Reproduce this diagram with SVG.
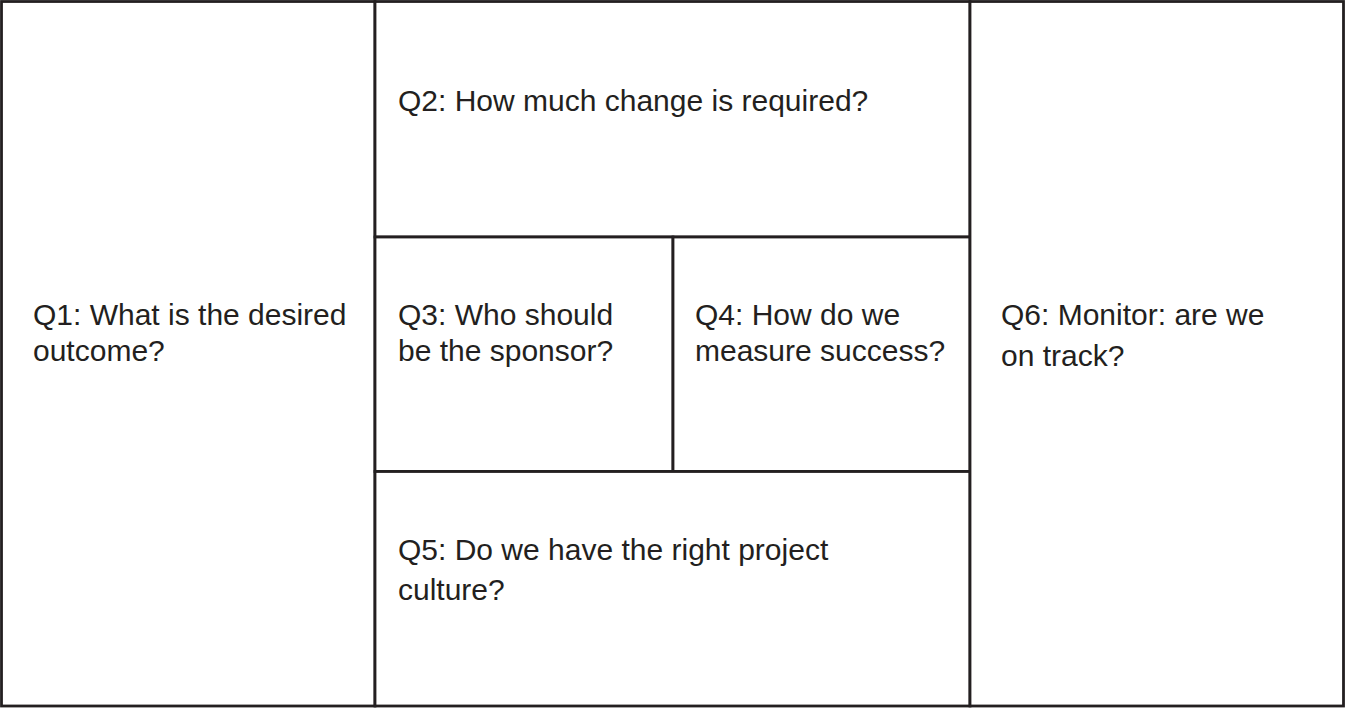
<svg xmlns="http://www.w3.org/2000/svg" width="1346" height="708" viewBox="0 0 1346 708">
<style>
.cell{fill:#fff;stroke:#231f20;stroke-width:2.8}
.lbl{font-family:"Liberation Sans",Arial,Helvetica,sans-serif;font-size:30px;fill:#231f20}
</style>
<rect width="1346" height="708" fill="#fff"/>
<g id="q1"><rect class="cell" x="1.5" y="1.5" width="373.5" height="704.5"/>
<text class="lbl" x="33" y="325">Q1: What is the desired</text>
<text class="lbl" x="33" y="361">outcome?</text></g>
<g id="q2"><rect class="cell" x="375" y="1.5" width="595" height="235.5"/>
<text class="lbl" x="398" y="111">Q2: How much change is required?</text></g>
<g id="q3"><rect class="cell" x="375" y="237" width="298" height="234.5"/>
<text class="lbl" x="398" y="325">Q3: Who should</text>
<text class="lbl" x="398" y="361">be the sponsor?</text></g>
<g id="q4"><rect class="cell" x="673" y="237" width="297" height="234.5"/>
<text class="lbl" x="695" y="325">Q4: How do we</text>
<text class="lbl" x="695" y="361">measure success?</text></g>
<g id="q5"><rect class="cell" x="375" y="471.5" width="595" height="234.5"/>
<text class="lbl" x="398" y="560">Q5: Do we have the right project</text>
<text class="lbl" x="398" y="600">culture?</text></g>
<g id="q6"><rect class="cell" x="970" y="1.5" width="373.5" height="704.5"/>
<text class="lbl" x="1001" y="325">Q6: Monitor: are we</text>
<text class="lbl" x="1001" y="366">on track?</text></g>
<g id="connectors"/>
</svg>
